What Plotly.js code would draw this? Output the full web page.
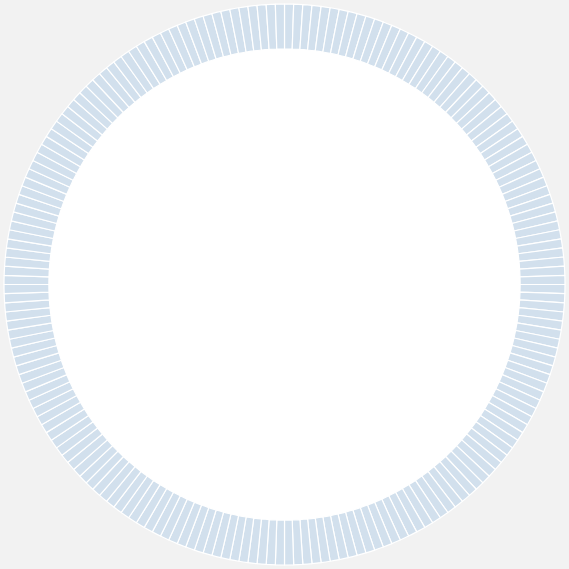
<!DOCTYPE html>
<html>
<head>
<meta charset="utf-8">
<script src="https://cdn.plot.ly/plotly-3.0.1.min.js"></script>
<style>
  html, body { margin: 0; padding: 0; background: #f2f2f2; }
  #chart { width: 569px; height: 569px; }
</style>
</head>
<body>
<div id="chart"></div>
<script>
// 192 equal segments round the ring
const segmentCount = 192;
const segmentLabels = [];
const segmentValues = [];
for (let i = 0; i < segmentCount; i++) { segmentLabels.push('s' + (i + 1)); segmentValues.push(1); }

const RING_COLOR = '#d2e0ed';

Plotly.newPlot('chart', [{
    type: 'pie',
    labels: segmentLabels,
    values: segmentValues,
    hole: 0.84,
    sort: false,
    direction: 'clockwise',
    rotation: 0,
    textinfo: 'none',
    hoverinfo: 'none',
    showlegend: false,
    marker: { colors: segmentLabels.map(() => RING_COLOR), line: { color: '#ffffff', width: 1.2 } }
}], {
    width: 569, height: 569,
    margin: { l: 4, r: 4, t: 4, b: 4 },
    paper_bgcolor: '#f2f2f2',
    showlegend: false,
    shapes: [{
        type: 'circle', xref: 'paper', yref: 'paper', layer: 'below',
        x0: 0.07, x1: 0.93, y0: 0.07, y1: 0.93,
        fillcolor: '#ffffff', line: { width: 0 }
    }]
}, { displayModeBar: false, staticPlot: true });
</script>
</body>
</html>
